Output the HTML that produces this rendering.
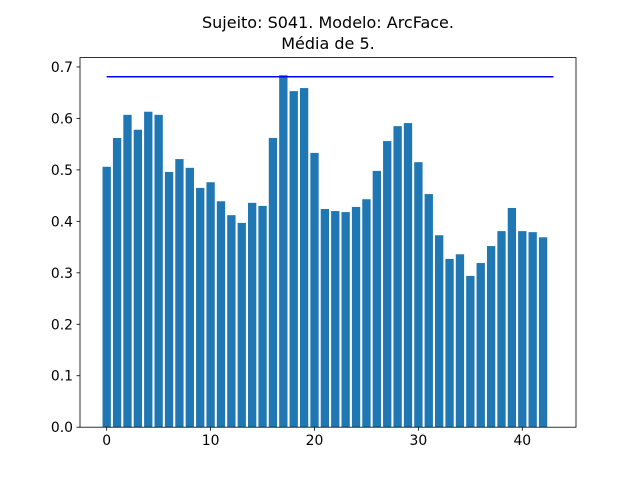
<!DOCTYPE html>
<html><head><meta charset="utf-8"><style>
body{margin:0;background:#fff;}
svg{display:block;font-family:"DejaVu Sans","Liberation Sans",sans-serif;}
</style></head><body>
<svg id="chart" width="640" height="480">
<rect width="640" height="480" fill="#fff"/>
<text x="328" y="28" text-anchor="middle" font-size="16">Sujeito: S041. Modelo: ArcFace.</text>
<text x="328" y="49" text-anchor="middle" font-size="16">Média de 5.</text>
<g id="bars"></g>
<g id="xticks"></g>
<g id="yticks"></g>
<rect x="80" y="57.6" width="496" height="369.6" fill="none" stroke="#000" stroke-width="0.8"/>
</svg>
<script>
const categories = Array.from({length:43},(_, i)=>i);
const values = [0.506,0.562,0.607,0.578,0.613,0.607,0.496,0.521,0.504,0.465,0.476,0.439,0.412,0.397,0.436,0.430,0.562,0.684,0.653,0.659,0.533,0.424,0.420,0.418,0.428,0.443,0.498,0.556,0.585,0.591,0.515,0.453,0.373,0.327,0.336,0.294,0.319,0.352,0.381,0.426,0.381,0.379,0.369];
const meanLine = [0, 43, 0.681];
const xTicks = [0,10,20,30,40];
const yTicks = [0.0,0.1,0.2,0.3,0.4,0.5,0.6,0.7];

const L=80,R=576,T=57.6,B=427.2;
const xMin=-2.57,xMax=45.17,yMin=0,yMax=Math.max(...values)*1.05;
const xs=v=>L+(v-xMin)/(xMax-xMin)*(R-L);
const ys=v=>B-(v-yMin)/(yMax-yMin)*(B-T);
const NS="http://www.w3.org/2000/svg";
const svg=document.getElementById('chart');
const bars=document.getElementById('bars');
categories.forEach((c,i)=>{
  const r=document.createElementNS(NS,'rect');
  r.setAttribute('x',xs(c-0.4));
  r.setAttribute('width',xs(c+0.4)-xs(c-0.4));
  r.setAttribute('y',ys(values[i]));
  r.setAttribute('height',ys(0)-ys(values[i]));
  r.setAttribute('fill','#1f77b4');
  
  
  bars.appendChild(r);
});
const ln=document.createElementNS(NS,'line');
ln.setAttribute('x1',xs(meanLine[0]));ln.setAttribute('x2',xs(meanLine[1]));
ln.setAttribute('y1',ys(meanLine[2]));ln.setAttribute('y2',ys(meanLine[2]));
ln.setAttribute('stroke','#0000ff');ln.setAttribute('stroke-width','1.5');


svg.appendChild(ln);
const xg=document.getElementById('xticks');
xTicks.forEach(t=>{
  const x=xs(t);
  const l=document.createElementNS(NS,'line');
  l.setAttribute('x1',x);l.setAttribute('x2',x);l.setAttribute('y1',B);l.setAttribute('y2',B+3.5);
  l.setAttribute('stroke','#000');l.setAttribute('stroke-width','0.8');
  
  
  xg.appendChild(l);
  const tx=document.createElementNS(NS,'text');
  tx.setAttribute('x',x);tx.setAttribute('y',B+18);tx.setAttribute('text-anchor','middle');tx.setAttribute('font-size','13.9');
  tx.textContent=t;
  
  
  xg.appendChild(tx);
});
const yg=document.getElementById('yticks');
yTicks.forEach(t=>{
  const y=ys(t);
  const l=document.createElementNS(NS,'line');
  l.setAttribute('x1',L-3.5);l.setAttribute('x2',L);l.setAttribute('y1',y);l.setAttribute('y2',y);
  l.setAttribute('stroke','#000');l.setAttribute('stroke-width','0.8');
  
  
  yg.appendChild(l);
  const tx=document.createElementNS(NS,'text');
  tx.setAttribute('x',L-7);tx.setAttribute('y',y+5);tx.setAttribute('text-anchor','end');tx.setAttribute('font-size','13.9');
  tx.textContent=t.toFixed(1);
  
  
  yg.appendChild(tx);
});
</script>
</body></html>
